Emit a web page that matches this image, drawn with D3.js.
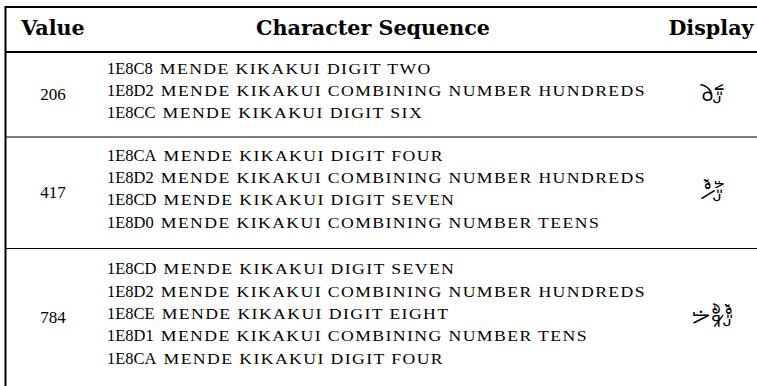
<!DOCTYPE html>
<html><head><meta charset="utf-8">
<script src="https://cdn.jsdelivr.net/npm/d3@7"></script>
<style>body{margin:0;background:#fff}svg{display:block}</style>
</head><body>
<script>
const headers = ["Value", "Character Sequence", "Display"];
const values = ["206", "417", "784"];
const codes = [
  ["1E8C8", "1E8D2", "1E8CC"],
  ["1E8CA", "1E8D2", "1E8CD", "1E8D0"],
  ["1E8CD", "1E8D2", "1E8CE", "1E8D1", "1E8CA"]
];
const names = [
  ["mende kikakui digit two", "mende kikakui combining number hundreds", "mende kikakui digit six"],
  ["mende kikakui digit four", "mende kikakui combining number hundreds", "mende kikakui digit seven", "mende kikakui combining number teens"],
  ["mende kikakui digit seven", "mende kikakui combining number hundreds", "mende kikakui digit eight", "mende kikakui combining number tens", "mende kikakui digit four"]
];
const displays = codes.map(c => c.map(h => String.fromCodePoint(parseInt(h, 16))).join(""));

const W = 757, H = 386;
const SERIF = "'Liberation Serif', serif";
const HEADF = "'DejaVu Serif', serif";
const svg = d3.select("body").append("svg").attr("width", W).attr("height", H);

const leftX = 5.5, topY = 7, headLine = 52;
const rowH = codes.map(c => 5.5 + 26.5 * c.length);
const rowTops = [];
let acc = headLine;
rowH.forEach(h => { rowTops.push(acc); acc += h; });

const x = d3.scaleOrdinal().domain(headers).range([53, 373, 711]);
const seqX = 107, seqRight = 646, lh = 22.3, gap = 7;

// header (fit width of the middle header)
const head = svg.selectAll("text.head").data(headers).join("text")
  .attr("class", "head")
  .attr("x", d => x(d)).attr("y", 35)
  .attr("text-anchor", "middle")
  .attr("font-family", HEADF).attr("font-weight", "bold").attr("font-size", 19)
  .attr("fill", "#000").text(d => d);
const mid = head.filter(d => d === "Character Sequence").node().getComputedTextLength();
head.attr("font-size", 19 * 234 / mid);

// rules
svg.append("line").attr("x1", leftX).attr("x2", W).attr("y1", topY).attr("y2", topY).attr("stroke", "#000").attr("stroke-width", 1.8);
svg.append("line").attr("x1", leftX).attr("x2", W).attr("y1", headLine).attr("y2", headLine).attr("stroke", "#000").attr("stroke-width", 2);
svg.selectAll("line.row").data(rowTops.slice(1)).join("line").attr("class", "row")
  .attr("x1", leftX).attr("x2", W).attr("y1", d => d).attr("y2", d => d)
  .attr("stroke", "#000").attr("stroke-width", 1.2);
svg.append("line").attr("x1", leftX).attr("x2", leftX).attr("y1", topY - 0.9).attr("y2", H).attr("stroke", "#000").attr("stroke-width", 2);

const rows = svg.selectAll("g.r").data(values).join("g").attr("class", "r");
rows.append("text")
  .attr("x", x("Value")).attr("y", (d, i) => rowTops[i] + rowH[i] / 2 + 5.5)
  .attr("text-anchor", "middle").attr("font-family", SERIF).attr("font-size", 17)
  .attr("fill", "#000").text(d => d);

const scTexts = [];
rows.each(function (d, i) {
  const g = d3.select(this);
  const n = codes[i].length;
  const y0 = rowTops[i] + rowH[i] / 2 - (n - 1) * lh / 2 + 1.5;
  codes[i].forEach((c, j) => {
    const ct = g.append("text").attr("x", seqX).attr("y", y0 + j * lh)
      .attr("font-family", SERIF).attr("font-size", 16.5).attr("fill", "#000").text(c);
    const cw = ct.node().getComputedTextLength();
    const sc = g.append("text").attr("x", seqX + cw + gap).attr("y", y0 + j * lh)
      .attr("font-family", SERIF).attr("font-size", 13.8).attr("letter-spacing", 1.1)
      .attr("fill", "#000").text(names[i][j].toUpperCase());
    scTexts.push({ sc, x0: seqX + cw + gap, w: sc.node().getComputedTextLength() });
  });
  g.append("text").attr("x", x("Display") + 1).attr("y", rowTops[i] + rowH[i] / 2 + 6.5)
    .attr("text-anchor", "middle").attr("font-size", 23).attr("fill", "#000")
    .attr("font-family", "'Noto Sans', sans-serif")
    .text(displays[i]);
});
// stretch small caps so the longest line ends at seqRight
const longest = scTexts.reduce((a, b) => (b.x0 + b.w > a.x0 + a.w ? b : a));
const k = (seqRight - longest.x0) / longest.w;
scTexts.forEach(s => s.sc.attr("textLength", s.w * k).attr("lengthAdjust", "spacingAndGlyphs"));
</script>
</body></html>
